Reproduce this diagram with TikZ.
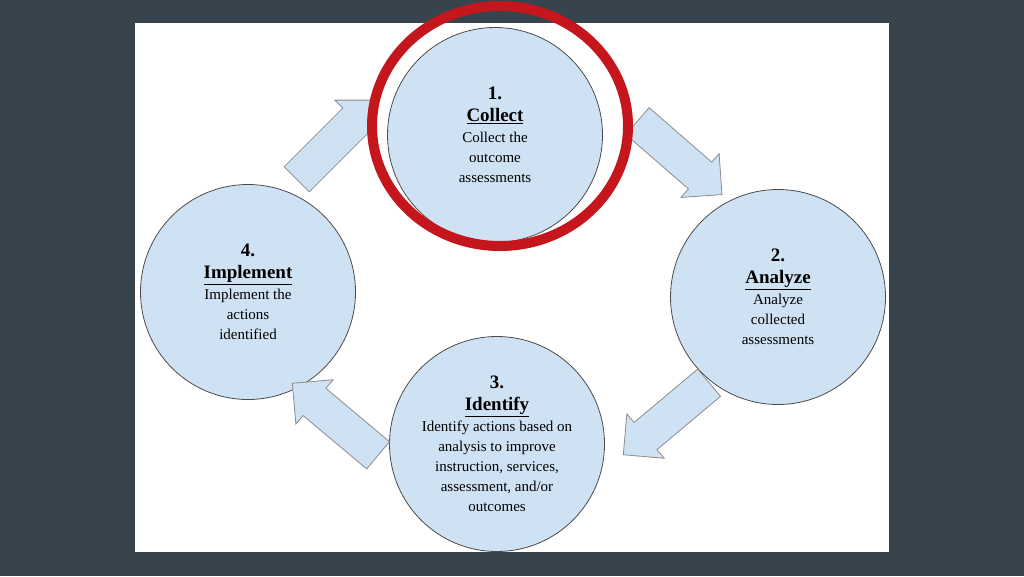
\documentclass[tikz,border=0pt]{standalone}
\usepackage{fontspec}
\setmainfont{Liberation Serif}
\usetikzlibrary{shapes.arrows}
\definecolor{slate}{HTML}{37444D}
\definecolor{stepfill}{HTML}{CFE2F3}
\definecolor{penred}{HTML}{C4161C}
\tikzset{
  stepcircle/.style={circle, minimum size=215pt, fill=stepfill, draw=black!70, line width=0.8pt, align=center, font=\fontsize{15}{20}\selectfont},
  blockarrow/.style={single arrow, fill=stepfill, draw=black!45, line width=0.8pt, minimum height=112pt, minimum width=58pt, inner xsep=0pt, inner ysep=17pt, single arrow head extend=11pt}
}
\newcommand{\bigtext}{\fontsize{19}{25}\selectfont\bfseries}
\newcommand{\smalltext}{\fontsize{15}{20}\selectfont\mdseries}
\begin{document}
\begin{tikzpicture}[x=1pt,y=-1pt]
  \useasboundingbox (0,0) rectangle (1024,576);
  \fill[slate] (0,0) rectangle (1024,576);
  \fill[white] (135,23) rectangle (889,552);

  % Steps
  \node (collect) [stepcircle] at (495,135) {\bigtext 1.\\[2pt]\bigtext\underline{Collect}\\[1pt]\smalltext Collect the\\\smalltext outcome\\\smalltext assessments};
  \node (analyze) [stepcircle] at (778,297) {\bigtext 2.\\[2pt]\bigtext\underline{Analyze}\\[1pt]\smalltext Analyze\\\smalltext collected\\\smalltext assessments};
  \node (identify) [stepcircle] at (497,444) {\bigtext 3.\\[2pt]\bigtext\underline{Identify}\\[1pt]\smalltext Identify actions based on\\\smalltext analysis to improve\\\smalltext instruction, services,\\\smalltext assessment, and/or\\\smalltext outcomes};
  \node (implement) [stepcircle] at (248,292) {\bigtext 4.\\[2pt]\bigtext\underline{Implement}\\[1pt]\smalltext Implement the\\\smalltext actions\\\smalltext identified};

  % Arrows
  \node (arrowA) [blockarrow, rotate=45] at (330,146) {};
  \node (arrowB) [blockarrow, rotate=-41] at (673,152) {};
  \node (arrowC) [blockarrow, rotate=-140] at (673,413) {};
  \node (arrowD) [blockarrow, rotate=140] at (342,425) {};

  % Red mark
  \begin{scope}
    \clip (0,0) rectangle (1024,576);
    \draw[penred, line width=10pt] (500,126) ellipse [x radius=128, y radius=120];
  \end{scope}
\end{tikzpicture}
\end{document}
